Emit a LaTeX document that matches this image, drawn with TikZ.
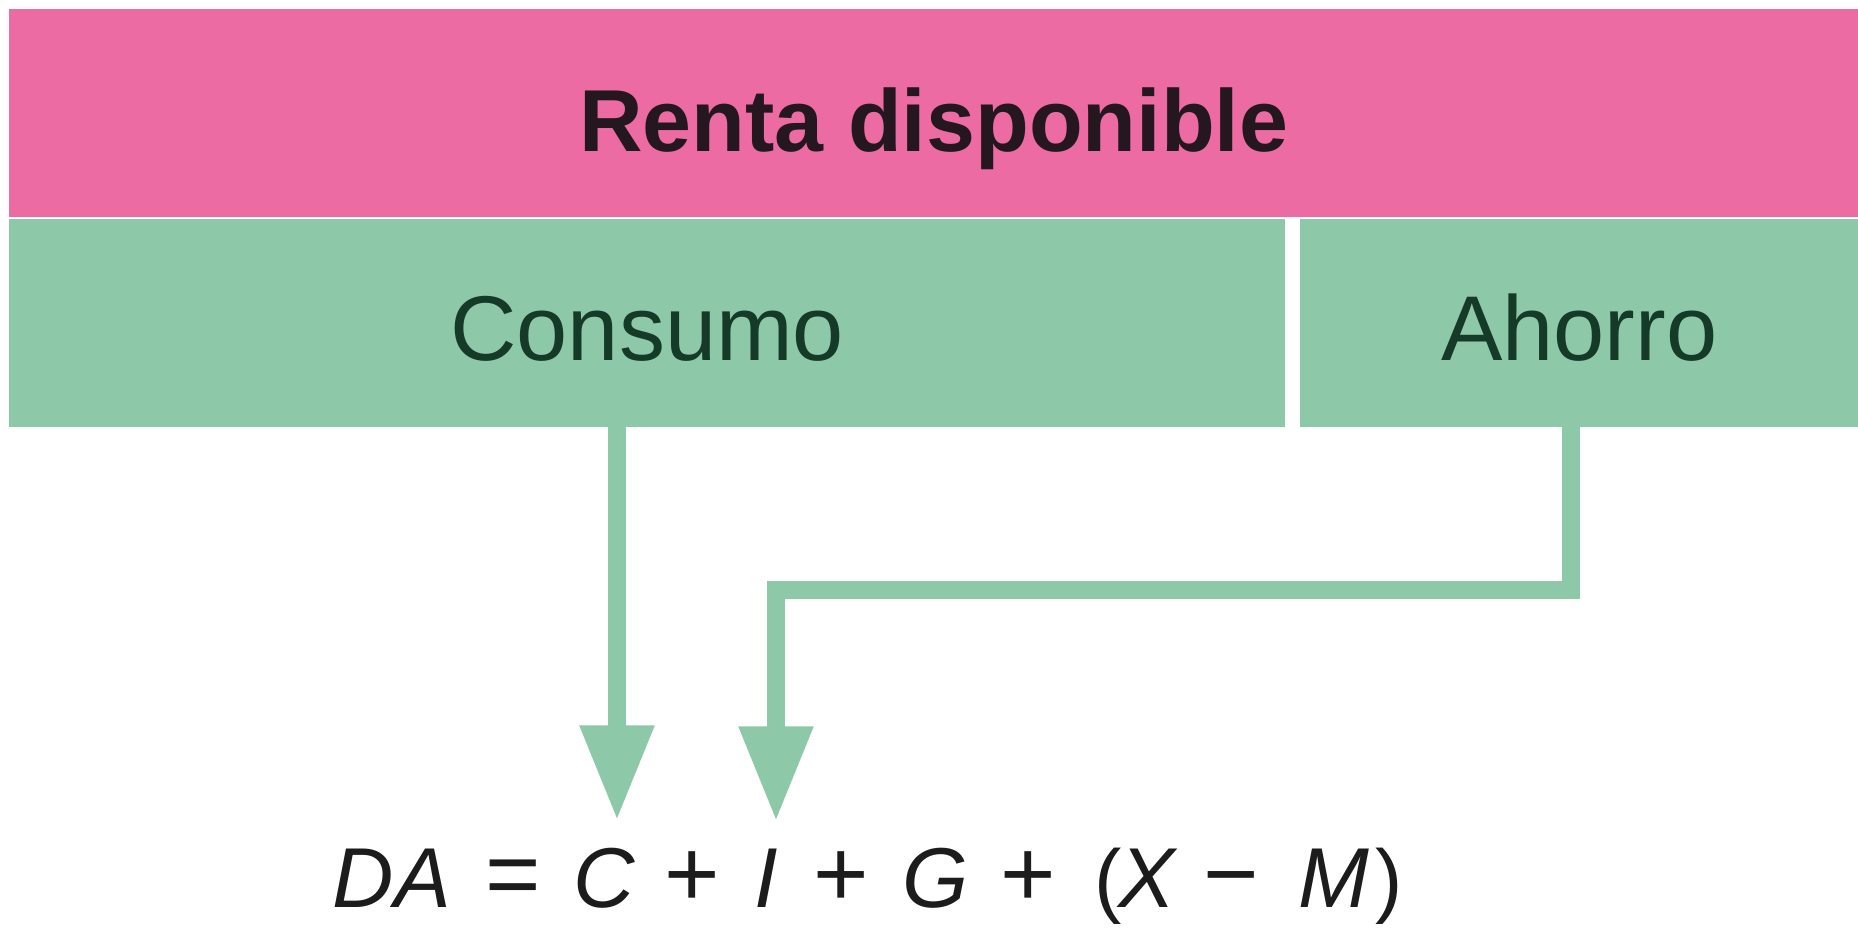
\documentclass[tikz,border=0pt]{standalone}
\usepackage{fontspec}
\setmainfont{Liberation Sans}
\usetikzlibrary{arrows.meta}
\definecolor{pinkbar}{HTML}{EC6BA3}
\definecolor{greenbar}{HTML}{8DC9A9}
\definecolor{greentext}{HTML}{163A28}
\definecolor{darktext}{HTML}{25171F}
\definecolor{eqcol}{HTML}{1C1C1C}
\begin{document}
\begin{tikzpicture}[x=1pt,y=-1pt,
  barbox/.style={draw=none, inner sep=0pt, anchor=north west, minimum height=208pt},
  pinkbox/.style={barbox, fill=pinkbar, text=darktext, font=\fontsize{88}{96}\selectfont\bfseries, text height=76pt, text depth=0pt},
  greenbox/.style={barbox, fill=greenbar, text=greentext, font=\fontsize{92}{100}\selectfont, text height=74pt, text depth=0pt},
  eqletter/.style={inner sep=0pt, anchor=base, text=eqcol, font=\fontsize{85}{95}\selectfont\itshape},
  eqop/.style={inner sep=0pt, anchor=base, text=eqcol, font=\fontsize{95}{100}\selectfont},
  eqparen/.style={inner sep=0pt, anchor=base, text=eqcol, font=\fontsize{82}{92}\selectfont},
  flow/.style={draw=greenbar, line width=18pt, line join=miter, -{Triangle[length=95pt,width=70pt]}}
]
\useasboundingbox (0,0) rectangle (1858,927);
\fill[white] (0,0) rectangle (1858,927);

\node[pinkbox, minimum width=1849pt] (renta) at (9,9) {Renta disponible};
\node[greenbox, minimum width=1276pt] (consumo) at (9,219) {Consumo};
\node[greenbox, minimum width=558pt] (ahorro) at (1300,219) {Ahorro};

% equation
\node[eqletter] (DA) at (392,907) {DA};
\node[eqop] (eq) at (513,906) {=};
\node[eqletter] (C) at (604,907) {C};
\node[eqop] (p1) at (692,906) {+};
\node[eqletter] (I) at (766,907) {I};
\node[eqop] (p2) at (841,906) {+};
\node[eqletter] (G) at (936,907) {G};
\node[eqop] (p3) at (1028,906) {+};
\node[eqparen] (lp) at (1108,907) {(};
\node[eqletter] (X) at (1147,907) {X};
\node[eqop] (mi) at (1231,906) {−};
\node[eqletter] (M) at (1334,907) {M};
\node[eqparen] (rp) at (1389,907) {)};

\coordinate (ctip) at ([xshift=13pt,yshift=27pt]C.north);
\coordinate (itip) at ([xshift=10pt,yshift=27pt]I.north);

\draw[flow] (consumo.south -| ctip) -- (ctip);
\draw[flow] ([xshift=-8pt]ahorro.south) -- ++(0,163) -| (itip);
\end{tikzpicture}
\end{document}
